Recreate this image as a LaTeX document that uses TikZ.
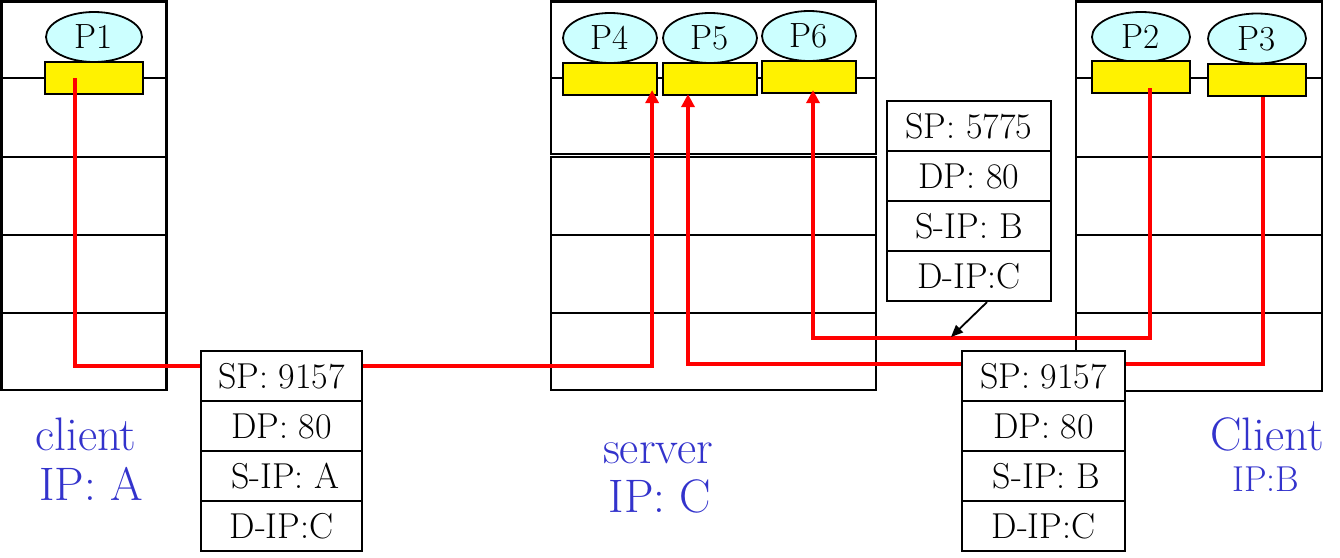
\documentclass[tikz,border=0pt]{standalone}
\usetikzlibrary{arrows.meta,shapes.geometric}
\definecolor{proccol}{RGB}{204,255,255}
\definecolor{lblcol}{RGB}{51,51,204}
\begin{document}
\begin{tikzpicture}[x=1pt,y=-1pt,
  hostborder/.style={line width=2.4pt},
  hostline/.style={line width=2.2pt},
  proc/.style={ellipse, draw, fill=proccol, line width=1.8pt, minimum width=96pt, minimum height=50pt, inner sep=0pt, font=\fontsize{35}{38}\selectfont},
  sock/.style={rectangle, draw, fill=yellow, line width=2.2pt, minimum width=96pt, minimum height=32pt, inner sep=0pt},
  flow/.style={red, line width=3.4pt},
  flowtip/.style={-{Triangle[length=13pt,width=13pt]}},
  pktrow/.style={rectangle, draw, fill=white, line width=2.2pt, minimum width=162pt, minimum height=50pt, inner sep=0pt, font=\fontsize{36}{38}\selectfont},
  lab/.style={text=lblcol, anchor=base, inner sep=0pt, font=\fontsize{47}{50}\selectfont},
  labsmall/.style={text=lblcol, anchor=base, inner sep=0pt, font=\fontsize{36}{40}\selectfont}]
\useasboundingbox (0,0) rectangle (1340,557);
% hosts
\draw[hostborder] (1.5,1.5) rectangle (166.5,390);
\foreach \y in {78,157,235,313} \draw[hostline] (1.5,\y) -- (166.5,\y);
\draw[hostborder] (551,1.5) rectangle (876,154);
\draw[hostborder] (551,157) rectangle (876,390);
\foreach \y in {78,235,313} \draw[hostline] (551,\y) -- (876,\y);
\draw[hostborder] (1076,1.5) rectangle (1322,391);
\foreach \y in {78,157,235,313} \draw[hostline] (1076,\y) -- (1322,\y);
% processes
\node[proc] (p1) at (94,37) {P1};
\node[sock, minimum width=98pt] (s1) at (94,78) {};
\node[proc, minimum width=94pt] (p4) at (610,38) {P4};
\node[sock, minimum width=94pt] (s4) at (610,79) {};
\node[proc, minimum width=94pt] (p5) at (710,38) {P5};
\node[sock, minimum width=94pt] (s5) at (710,79) {};
\node[proc, minimum width=94pt] (p6) at (809,36) {P6};
\node[sock, minimum width=94pt] (s6) at (809,77) {};
\node[proc, minimum width=98pt] (p2) at (1141,37) {P2};
\node[sock, minimum width=98pt] (s2) at (1141,77) {};
\node[proc, minimum width=98pt] (p3) at (1257,38.5) {P3};
\node[sock, minimum width=98pt] (s3) at (1257,80) {};
% flows
\draw[flow, flowtip] ([xshift=-19pt]s1.center) -- ++(0,288) -| ([shift={(-6pt,6pt)}]s4.south east);
\draw[flow, flowtip] ([xshift=6pt]s3.south) -- ++(0,267) -| ([shift={(-22pt,2pt)}]s5.south);
\draw[flow, flowtip] ([shift={(9pt,-11pt)}]s2.center) -- ++(0,250) -| ([shift={(4pt,4pt)}]s6.south);
% packets
\node[pktrow, minimum width=161pt] (la) at (281.5,376) {SP: 9157};
\node[pktrow, minimum width=161pt] (lb) at (281.5,426) {DP: 80};
\node[pktrow, minimum width=161pt] (lc) at (281.5,476) {\hspace{8pt}S-IP: A};
\node[pktrow, minimum width=161pt] (ld) at (281.5,526) {D-IP:C};
\node[pktrow, minimum width=163pt] (ra) at (1043.5,376) {SP: 9157};
\node[pktrow, minimum width=163pt] (rb) at (1043.5,426) {DP: 80};
\node[pktrow, minimum width=163pt] (rc) at (1043.5,476) {\hspace{6pt}S-IP: B};
\node[pktrow, minimum width=163pt] (rd) at (1043.5,526) {D-IP:C};
\node[pktrow, minimum width=164pt] (ta) at (969,126) {SP: 5775};
\node[pktrow, minimum width=164pt] (tb) at (969,176) {DP: 80};
\node[pktrow, minimum width=164pt] (tc) at (969,226) {S-IP: B};
\node[pktrow, minimum width=164pt] (td) at (969,276) {D-IP:C};
\coordinate (tip) at (951,337);
\draw[line width=1.8pt, -{Triangle[length=12pt,width=10pt]}] ([xshift=18pt]td.south) -- (tip);
% labels
\node[lab] (l1) at (86,450) {client};
\node[lab] (l2) at (91,500) {IP: A};
\node[lab] (l3) at (658,463) {server};
\node[lab] (l4) at (660,512) {IP: C};
\node[lab] (l5) at (1267,450) {Client};
\node[labsmall] (l6) at (1266,491) {IP:B};
\end{tikzpicture}
\end{document}
